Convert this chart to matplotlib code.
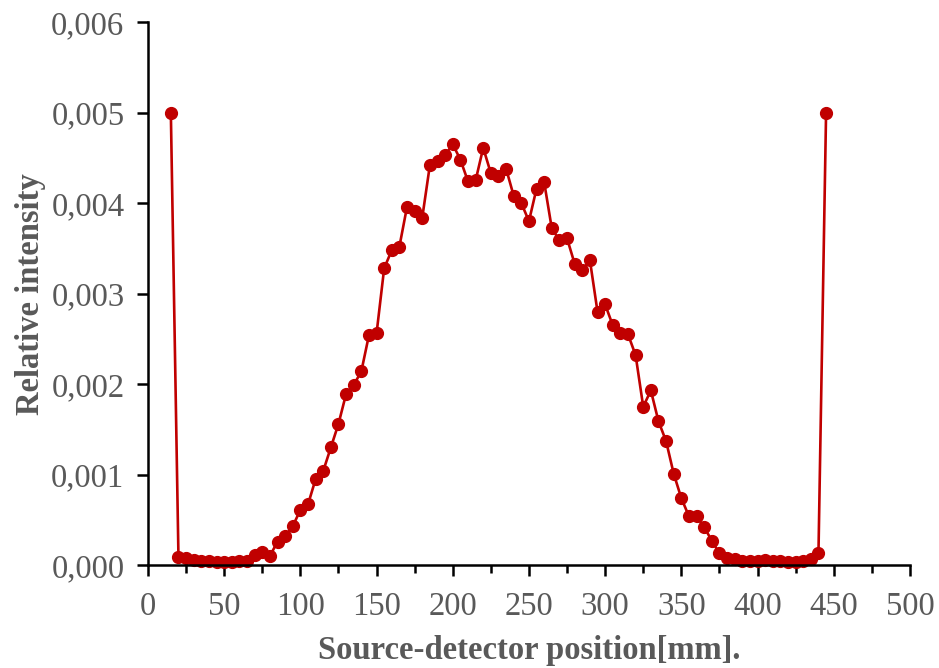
import numpy as np
import matplotlib
matplotlib.use("Agg")
import matplotlib.pyplot as plt
from matplotlib.ticker import MultipleLocator, FuncFormatter

# positions every 5 mm, from 15 to 445
position_mm = np.arange(15, 450, 5)

intensity = [
    0.00500, 0.00009, 0.00008, 0.00006, 0.00005, 0.00005, 0.00004, 0.00004,
    0.00004, 0.00005, 0.00005, 0.00011, 0.00015, 0.00010, 0.00026, 0.00032,
    0.00043, 0.00061, 0.00067, 0.00095, 0.00104, 0.00130, 0.00156, 0.00189,
    0.00199, 0.00214, 0.00254, 0.00256, 0.00328, 0.00348, 0.00352, 0.00396,
    0.00391, 0.00384, 0.00442, 0.00447, 0.00453, 0.00465, 0.00448, 0.00424,
    0.00425, 0.00461, 0.00433, 0.00430, 0.00438, 0.00408, 0.00400, 0.00380,
    0.00416, 0.00423, 0.00372, 0.00359, 0.00361, 0.00333, 0.00326, 0.00337,
    0.00280, 0.00288, 0.00265, 0.00256, 0.00255, 0.00232, 0.00175, 0.00193,
    0.00159, 0.00137, 0.00101, 0.00074, 0.00054, 0.00054, 0.00042, 0.00027,
    0.00013, 0.00008, 0.00007, 0.00005, 0.00005, 0.00005, 0.00006, 0.00005,
    0.00005, 0.00004, 0.00004, 0.00005, 0.00007, 0.00013, 0.00500,
]

GREY = "#595959"
RED = "#C00000"

plt.rcParams["font.family"] = ["Liberation Serif", "DejaVu Serif"]

fig = plt.figure(figsize=(9.39, 6.68), dpi=100)
ax = fig.add_axes([0.1576, 0.154, 0.8114, 0.813])

ax.plot(position_mm, intensity, color=RED, linewidth=1.9,
        marker="o", markersize=8.5, clip_on=False)

ax.set_xlim(0, 500)
ax.set_ylim(0, 0.006)
ax.xaxis.set_major_locator(MultipleLocator(50))
ax.xaxis.set_minor_locator(MultipleLocator(25))
ax.yaxis.set_major_locator(MultipleLocator(0.001))
ax.yaxis.set_major_formatter(FuncFormatter(lambda v, p: f"{v:.3f}".replace(".", ",")))

for s in ["top", "right"]:
    ax.spines[s].set_visible(False)
for s in ["left", "bottom"]:
    ax.spines[s].set_linewidth(1.8)
    ax.spines[s].set_color("black")

ax.tick_params(axis="both", which="major", direction="out", length=8, width=1.8,
               labelsize=23.5, labelcolor=GREY)
ax.tick_params(axis="y", which="major", pad=9)
ax.tick_params(axis="x", which="major", pad=11)
ax.tick_params(axis="x", which="minor", direction="out", length=6, width=1.8)

ax.set_xlabel("Source-detector position[mm].", fontsize=23.5, fontweight="bold",
              color=GREY, labelpad=9)
ax.set_ylabel("Relative intensity", fontsize=23.5, fontweight="bold",
              color=GREY, labelpad=4)

fig.savefig("out.png", dpi=100)
